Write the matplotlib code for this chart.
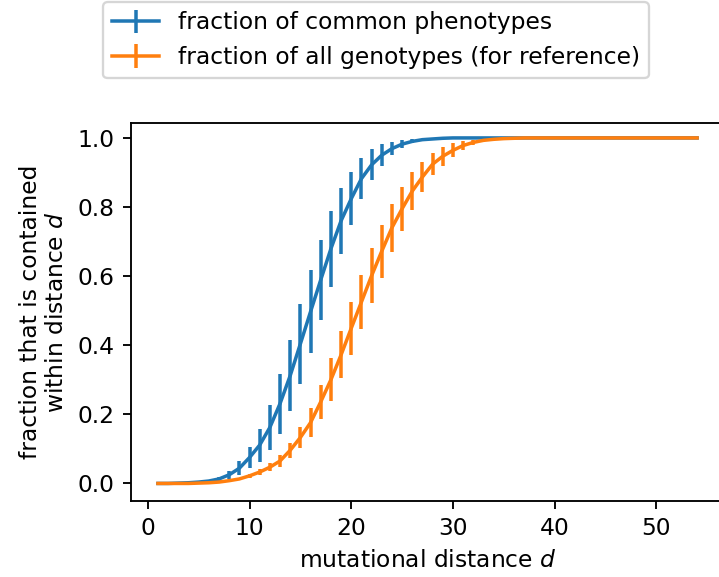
import numpy as np
import matplotlib
matplotlib.use('Agg')
import matplotlib.pyplot as plt

# mutational distances
distances = list(range(1, 55))

# fraction of common phenotypes within distance d (mean and error)
common_frac = [0.0, 0.0, 0.001, 0.002, 0.004, 0.007, 0.013, 0.025, 0.044, 0.075,
               0.111, 0.162, 0.231, 0.312, 0.404, 0.497, 0.589, 0.679, 0.760, 0.824,
               0.882, 0.922, 0.950, 0.969, 0.982, 0.990, 0.995, 0.997, 0.999, 1.0] + [1.0] * 24
common_err = [0.0, 0.0, 0.0, 0.001, 0.002, 0.003, 0.006, 0.012, 0.02, 0.03,
              0.048, 0.066, 0.087, 0.103, 0.115, 0.12, 0.117, 0.11, 0.095, 0.077,
              0.06, 0.045, 0.031, 0.019, 0.011, 0.006, 0.003, 0.002, 0.001, 0.0] + [0.0] * 24

# fraction of all genotypes within distance d (for reference)
all_frac = [0.0, 0.0, 0.0, 0.0, 0.001, 0.002, 0.004, 0.008, 0.013, 0.022,
            0.033, 0.047, 0.065, 0.096, 0.133, 0.176, 0.236, 0.300, 0.372, 0.449,
            0.525, 0.601, 0.672, 0.740, 0.795, 0.846, 0.887, 0.924, 0.947, 0.964,
            0.978, 0.987, 0.993, 0.996, 0.998, 0.999, 1.0] + [1.0] * 17
all_err = [0.0, 0.0, 0.0, 0.0, 0.0, 0.001, 0.002, 0.003, 0.004, 0.006,
           0.008, 0.011, 0.017, 0.022, 0.03, 0.041, 0.05, 0.062, 0.068, 0.077,
           0.077, 0.08, 0.077, 0.07, 0.063, 0.055, 0.043, 0.032, 0.027, 0.02,
           0.014, 0.008, 0.005, 0.003, 0.002, 0.001, 0.0] + [0.0] * 17

DPI = 168
fig = plt.figure(figsize=(719 / DPI, 577 / DPI), dpi=DPI)
ax = fig.add_axes([0.1822, 0.1322, 0.8248, 0.6551])

ax.errorbar(distances, common_frac, yerr=common_err, label='fraction of common phenotypes')
ax.errorbar(distances, all_frac, yerr=all_err, label='fraction of all genotypes (for reference)')

ax.set_ylim(-0.05, 1.044)
ax.set_xlabel('mutational distance $d$')
ax.set_ylabel('fraction that is contained\nwithin distance $d$')

fig.legend(loc='upper left', bbox_to_anchor=(103 / 719, 1 - 2 / 577), borderaxespad=0)

fig.savefig('out.png', dpi=DPI)
